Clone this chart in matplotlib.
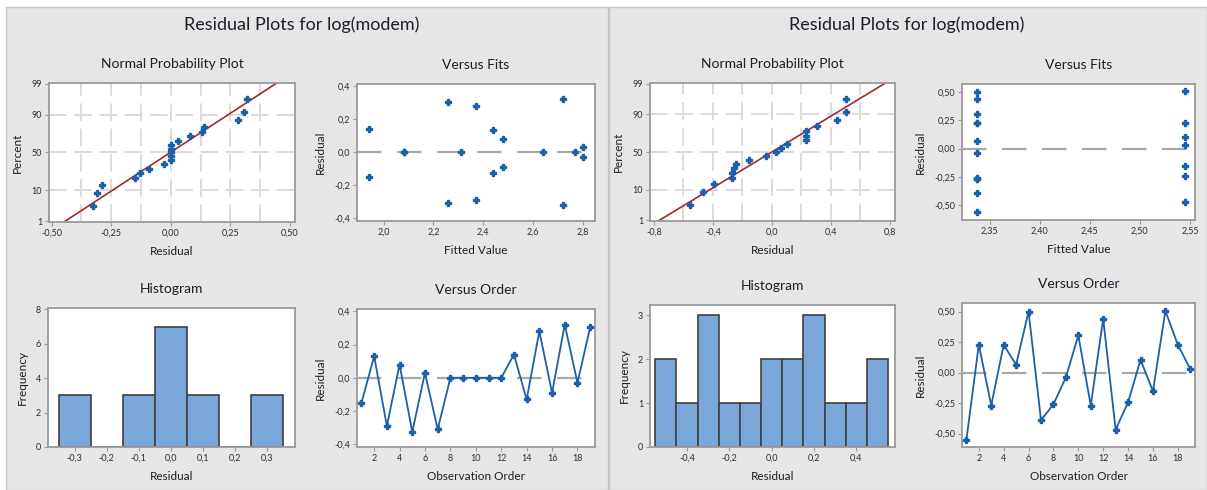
import numpy as np
import matplotlib
matplotlib.use('Agg')
import matplotlib.pyplot as plt
from matplotlib.patches import Rectangle
from matplotlib.ticker import FuncFormatter
from statistics import NormalDist

plt.rcParams['font.family'] = ['Lato', 'DejaVu Sans']

# model on the left
order = [1, 2, 3, 4, 5, 6, 7, 8, 9, 10, 11, 12, 13, 14, 15, 16, 17, 18, 19]
resid_a = [-0.15, 0.13, -0.29, 0.08, -0.325, 0.03, -0.31, 0.0, 0.0, 0.0,
           0.0, 0.0, 0.14, -0.13, 0.28, -0.09, 0.32, -0.03, 0.305]
fits_a = [1.94, 2.44, 2.37, 2.48, 2.72, 2.80, 2.26, 2.08, 2.08, 2.31,
          2.64, 2.77, 1.94, 2.44, 2.37, 2.48, 2.72, 2.80, 2.26]
hist_bins_a = [-0.3, -0.2, -0.1, 0.0, 0.1, 0.2, 0.3]
hist_counts_a = [3, 0, 3, 7, 3, 0, 3]

# model on the right
resid_b = [-0.555, 0.228, -0.27, 0.228, 0.064, 0.50, -0.39, -0.26, -0.04, 0.305,
           -0.27, 0.44, -0.467, -0.244, 0.105, -0.153, 0.505, 0.228, 0.028]
fits_b = [2.337, 2.337, 2.337, 2.337, 2.337, 2.337, 2.337, 2.337, 2.337, 2.337,
          2.337, 2.337, 2.545, 2.545, 2.545, 2.545, 2.545, 2.545, 2.545]
hist_bins_b = [-0.5, -0.4, -0.3, -0.2, -0.1, 0.0, 0.1, 0.2, 0.3, 0.4, 0.5]
hist_counts_b = [2, 1, 3, 1, 1, 2, 2, 3, 1, 1, 2]

pct_ticks = [1, 10, 50, 90, 99]

BLUE = '#1d5fa8'
RED = '#a52a2a'
BAR = '#7ba6d9'
TXT = '#1e1e2c'
W, H = 1207, 490

fig = plt.figure(figsize=(W / 100, H / 100), dpi=100)
fig.patch.set_facecolor('white')

# gray panels behind everything
for x0, x1 in [(6, 608), (609, 1207)]:
    fig.patches.append(Rectangle((x0 / W, 0), (x1 - x0) / W, 1 - 7 / H,
                                 transform=fig.transFigure, facecolor='#e6e6e6',
                                 edgecolor='#c4c4c4', lw=1.0, zorder=-5))
fig.text(302 / W, 1 - 25 / H, 'Residual Plots for log(modem)', ha='center', va='center',
         fontsize=13, color=TXT)
fig.text(907 / W, 1 - 25 / H, 'Residual Plots for log(modem)', ha='center', va='center',
         fontsize=13, color=TXT)


def make_ax(x0, y0, x1, y1):
    ax = fig.add_axes([x0 / W, 1 - y1 / H, (x1 - x0) / W, (y1 - y0) / H])
    ax.set_facecolor('white')
    for s in ax.spines.values():
        s.set_color('#9a9a9a')
        s.set_linewidth(1.3)
    ax.tick_params(length=3, width=0.8, color='#9a9a9a', labelsize=6.5, pad=2,
                   labelcolor='#303030')
    return ax


def fmt(dec):
    return FuncFormatter(lambda v, p: f'{v + 0.0:.{dec}f}'.replace('.', ','))


def deco(ax, title, xlabel, ylabel):
    ax.set_title(title, fontsize=10, color=TXT, pad=11)
    ax.set_xlabel(xlabel, fontsize=8.5, color=TXT, labelpad=6)
    ax.set_ylabel(ylabel, fontsize=8.5, color=TXT, labelpad=6)


def npp(ax, resid, xlim, xticks, dec, grid_x):
    nd = NormalDist()
    r = np.sort(np.array(resid))
    n = len(r)
    z = [nd.inv_cdf((i - 0.3) / (n + 0.4)) for i in range(1, n + 1)]
    zlim = nd.inv_cdf(0.99)
    mu, sd = r.mean(), r.std(ddof=1)
    for g in grid_x:
        ax.axvline(g, color='#dadada', lw=1.4, ls=(0, (9, 4)), zorder=0)
    for p in [10, 50, 90]:
        ax.axhline(nd.inv_cdf(p / 100), color='#dadada', lw=1.4, ls=(0, (9, 4)), zorder=0)
    zz = np.linspace(-zlim - 0.2, zlim + 0.2, 50)
    ax.plot(mu + sd * zz, zz, color=RED, lw=1.2, zorder=2)
    ax.plot(r, z, ls='none', marker='P', ms=4, color=BLUE, zorder=3)
    ax.set_xlim(*xlim)
    ax.set_ylim(-zlim - 0.02, zlim + 0.02)
    ax.set_xticks(xticks)
    ax.xaxis.set_major_formatter(fmt(dec))
    ax.set_yticks([nd.inv_cdf(p / 100) for p in pct_ticks])
    ax.set_yticklabels([str(p) for p in pct_ticks])
    deco(ax, 'Normal Probability Plot', 'Residual', 'Percent')


def vfits(ax, fits, resid, xlim, ylim, xticks, yticks, xdec, ydec):
    ax.axhline(0, color='#a8a8a8', lw=1.6, ls=(0, (11, 7)), zorder=1)
    ax.plot(fits, resid, ls='none', marker='P', ms=4, color=BLUE, zorder=3)
    ax.set_xlim(*xlim)
    ax.set_ylim(*ylim)
    ax.set_xticks(xticks)
    ax.set_yticks(yticks)
    ax.xaxis.set_major_formatter(fmt(xdec))
    ax.yaxis.set_major_formatter(fmt(ydec))
    deco(ax, 'Versus Fits', 'Fitted Value', 'Residual')


def hist(ax, bins, counts, width, xlim, ylim, xticks, yticks, xdec):
    ax.bar(bins, counts, width=width, color=BAR, edgecolor='#404040', lw=1.2, zorder=2)
    ax.set_xlim(*xlim)
    ax.set_ylim(*ylim)
    ax.set_xticks(xticks)
    ax.set_yticks(yticks)
    ax.xaxis.set_major_formatter(fmt(xdec))
    deco(ax, 'Histogram', 'Residual', 'Frequency')


def vorder(ax, resid, ylim, yticks, ydec):
    ax.axhline(0, color='#a8a8a8', lw=1.6, ls=(0, (11, 7)), zorder=1)
    ax.plot(order, resid, color=BLUE, lw=1.3, marker='P', ms=4, zorder=3)
    ax.set_xlim(0.65, 19.38)
    ax.set_ylim(*ylim)
    ax.set_xticks([2, 4, 6, 8, 10, 12, 14, 16, 18])
    ax.set_yticks(yticks)
    ax.yaxis.set_major_formatter(fmt(ydec))
    deco(ax, 'Versus Order', 'Observation Order', 'Residual')


# left panel
ax = make_ax(49, 83, 295, 222)
npp(ax, resid_a, (-0.511, 0.521), [-0.5, -0.25, 0.0, 0.25, 0.5], 2,
    [-0.375, -0.25, -0.125, 0.0, 0.125, 0.25, 0.375])
ax = make_ax(357, 84, 595, 221)
vfits(ax, fits_a, resid_a, (1.893, 2.85), (-0.42, 0.412),
      [2.0, 2.2, 2.4, 2.6, 2.8], [-0.4, -0.2, 0.0, 0.2, 0.4], 1, 1)
ax = make_ax(48, 308, 295, 447)
hist(ax, hist_bins_a, hist_counts_a, 0.1, (-0.383, 0.389), (0, 8.08),
     [-0.3, -0.2, -0.1, 0.0, 0.1, 0.2, 0.3], [0, 2, 4, 6, 8], 1)
ax = make_ax(357, 309, 595, 447)
vorder(ax, resid_a, (-0.416, 0.414), [-0.4, -0.2, 0.0, 0.2, 0.4], 1)

# right panel
ax = make_ax(650, 83, 895, 221)
npp(ax, resid_b, (-0.827, 0.834), [-0.8, -0.4, 0.0, 0.4, 0.8], 1,
    [-0.6, -0.4, -0.2, 0.0, 0.2, 0.4, 0.6])
ax = make_ax(962, 84, 1195, 220)
vfits(ax, fits_b, resid_b, (2.3224, 2.555), (-0.63, 0.57),
      [2.35, 2.40, 2.45, 2.50, 2.55], [-0.5, -0.25, 0.0, 0.25, 0.5], 2, 2)
ax = make_ax(650, 305, 895, 447)
hist(ax, hist_bins_b, hist_counts_b, 0.1, (-0.575, 0.583), (0, 3.23),
     [-0.4, -0.2, 0.0, 0.2, 0.4], [0, 1, 2, 3], 1)
ax = make_ax(962, 303, 1195, 447)
vorder(ax, resid_b, (-0.61, 0.57), [-0.5, -0.25, 0.0, 0.25, 0.5], 2)

fig.savefig('out.png', dpi=100)
